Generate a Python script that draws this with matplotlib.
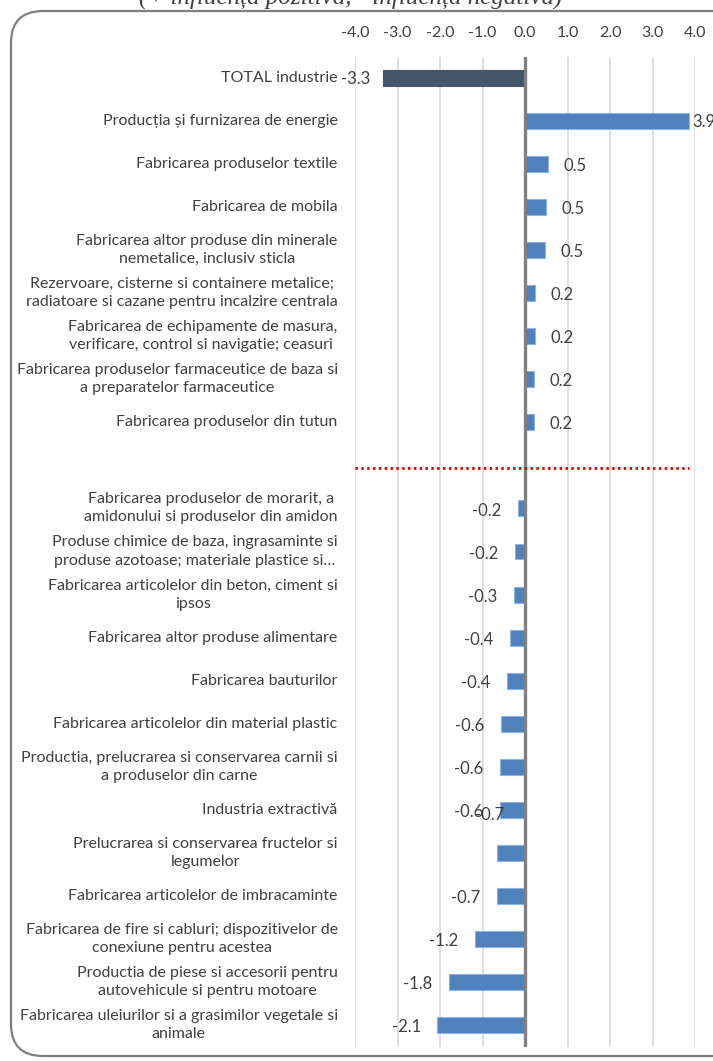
import numpy as np
import matplotlib
matplotlib.use("Agg")
import matplotlib.pyplot as plt
from matplotlib.patches import FancyBboxPatch

plt.rcParams['font.family'] = ['Lato', 'DejaVu Sans']

# ---------------- data ----------------
categories = [
    "TOTAL industrie",
    "Producția și furnizarea de energie",
    "Fabricarea produselor textile",
    "Fabricarea de mobila",
    "Fabricarea altor produse din minerale\nnemetalice, inclusiv sticla",
    "Rezervoare, cisterne si containere metalice;\nradiatoare si cazane pentru incalzire centrala",
    "Fabricarea de echipamente de masura,\nverificare, control si navigatie; ceasuri ",
    "Fabricarea produselor farmaceutice de baza si\na preparatelor farmaceutice",
    "Fabricarea produselor din tutun",
    "",
    "Fabricarea produselor de morarit, a\namidonului si produselor din amidon",
    "Produse chimice de baza, ingrasaminte si\nproduse azotoase; materiale plastice si…",
    "Fabricarea articolelor din beton, ciment si\nipsos",
    "Fabricarea altor produse alimentare",
    "Fabricarea bauturilor",
    "Fabricarea articolelor din material plastic",
    "Productia, prelucrarea si conservarea carnii si\na produselor din carne",
    "Industria extractivă",
    "Prelucrarea si conservarea fructelor si\nlegumelor",
    "Fabricarea articolelor de imbracaminte",
    "Fabricarea de fire si cabluri; dispozitivelor de\nconexiune pentru acestea",
    "Productia de piese si accesorii pentru\nautovehicule si pentru motoare",
    "Fabricarea uleiurilor si a grasimilor vegetale si\nanimale",
]
values = [-3.34, 3.87, 0.54, 0.50, 0.48, 0.24, 0.24, 0.22, 0.20, np.nan,
          -0.17, -0.23, -0.26, -0.36, -0.42, -0.56, -0.58, -0.60, -0.66,
          -0.67, -1.17, -1.79, -2.06]
tick_values = [-4.0, -3.0, -2.0, -1.0, 0.0, 1.0, 2.0, 3.0, 4.0]
title = "(+ influența pozitivă, - influența negativă)"

# ---------------- figure ----------------
W, H = 713, 1061
fig = plt.figure(figsize=(W / 100, H / 100), dpi=100)

# background overlay for rounded frame
bg = fig.add_axes([0, 0, 1, 1], zorder=0)
bg.set_xlim(0, W)
bg.set_ylim(0, H)
bg.axis('off')
frame = FancyBboxPatch((11, 5), 760, H - 5 - 11,
                       boxstyle="round,pad=0,rounding_size=32",
                       fc='white', ec='#7f7f7f', lw=1.6)
bg.add_patch(frame)

left, right = 355 / W, 695 / W
top, bottom = 1 - 56.5 / H, 1 - 1046.5 / H
ax = fig.add_axes([left, bottom, right - left, top - bottom], zorder=1)
ax.set_facecolor('none')

n = len(categories)
y = np.arange(n)
vals = np.array(values, dtype=float)
colors = ['#44546a'] + ['#4f81bd'] * (n - 1)
edges = ['#44546a'] + ['#8eb4e3'] * (n - 1)
mask = ~np.isnan(vals)
ax.barh(y[mask], vals[mask], height=0.37,
        color=[c for c, m in zip(colors, mask) if m],
        edgecolor=[c for c, m in zip(edges, mask) if m], lw=0.8, zorder=3)

ax.set_xlim(-4, 4)
ax.set_ylim(n - 0.5, -0.5)
ax.set_xticks(tick_values)
ax.set_xticklabels([f"{t:.1f}" for t in tick_values])
ax.xaxis.tick_top()
ax.tick_params(axis='x', length=0, pad=12, labelsize=11.5, labelcolor='#404040')
ax.set_yticks([])
for s in ax.spines.values():
    s.set_visible(False)
for t in tick_values:
    ax.axvline(t, color='#d9d9d9', lw=1.2, zorder=1)
ax.axvline(0, color='#808080', lw=2.4, zorder=4)

# separator line at the gap
gap = categories.index("")
ax.plot([-4, 3.85], [gap + 0.06, gap + 0.06], color='#e00000', lw=2.0,
        ls=(0, (0.9, 1.2)), zorder=5, solid_capstyle='butt')

# category labels
for i, c in enumerate(categories):
    if not c:
        continue
    ax.annotate(c, xy=(0, i), xycoords=('axes fraction', 'data'),
                xytext=(-12.5, 0), textcoords='offset points',
                ha='right', va='center', multialignment='center',
                fontsize=11.5, color='#404040', linespacing=1.37)

# data labels
special = {0: (-19.5, -1, 'center'), 1: (2, -1, 'left'),
           18: (-5, 27, 'center')}
for i, v in enumerate(vals):
    if np.isnan(v):
        continue
    dx = 19.5 if v > 0 else -22.5
    dy = -1.5
    ha = 'center'
    if i in special:
        dx, dy, ha = special[i]
    ax.annotate(f"{v:.1f}", xy=(v, i), xytext=(dx, dy),
                textcoords='offset points', ha=ha, va='center',
                fontsize=12, color='#404040', zorder=6,
                annotation_clip=False)

fig.text(351 / W, 1 - 4 / H, title, ha='center', va='baseline',
         fontsize=18, style='italic', family=['Liberation Serif', 'DejaVu Serif'],
         color='#404040')

fig.savefig('out.png', dpi=100)
